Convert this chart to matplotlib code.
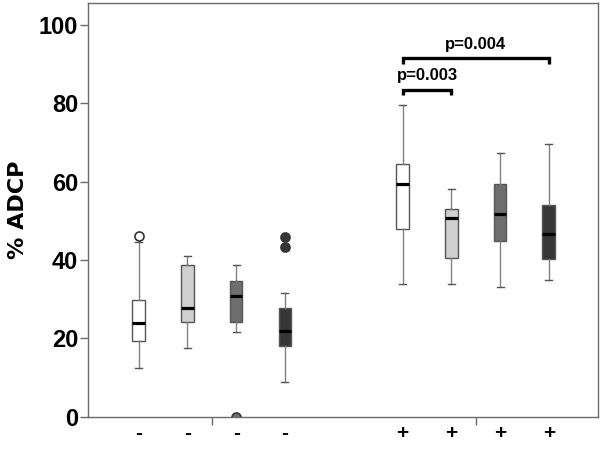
import matplotlib
matplotlib.use("Agg")
import matplotlib.pyplot as plt
import numpy as np

# ---- data ----
groups = ["-", "+"]
series_colors = ["#ffffff", "#cfcfcf", "#6e6e6e", "#363636"]
# order per box: whisker low, q1, median, q3, whisker high
neg_stats = [
    [12.3, 19.4, 23.9, 29.8, 44.6],
    [17.6, 24.1, 27.6, 38.7, 41.1],
    [21.7, 24.1, 30.7, 34.5, 38.8],
    [8.8, 18.0, 21.8, 27.7, 31.5],
]
pos_stats = [
    [33.8, 47.9, 59.5, 64.4, 79.5],
    [33.8, 40.5, 50.7, 53.0, 58.0],
    [33.0, 44.8, 51.7, 59.3, 67.3],
    [34.9, 40.2, 46.6, 54.0, 69.7],
]
neg_outliers = [[46.2], [], [0.0], [45.9, 43.3]]
pos_outliers = [[], [], [], []]
brackets = [  # (box index a, box index b in "+" group, bar height, label)
    (0, 1, 83.4, "p=0.003"),
    (0, 3, 91.5, "p=0.004"),
]
yticks = [0, 20, 40, 60, 80, 100]

# ---- layout ----
fig = plt.figure(figsize=(6.0, 4.49), dpi=100)
ax = fig.add_axes([88/600, 1-416.5/449, 510/600, 413.5/449])

step = 0.1845
offsets = (np.arange(4) - 1.5) * step
group_pos = [0.0, 1.0]

grey = "#6a6a6a"
for gi, (stats, outs) in enumerate([(neg_stats, neg_outliers), (pos_stats, pos_outliers)]):
    for bi in range(4):
        lo, q1, med, q3, hi = stats[bi]
        st = dict(whislo=lo, q1=q1, med=med, q3=q3, whishi=hi, fliers=outs[bi])
        fc = series_colors[bi]
        res = ax.bxp([st], positions=[group_pos[gi] + offsets[bi]], widths=0.048,
                     capwidths=0.026, patch_artist=True, showfliers=True,
                     boxprops=dict(facecolor=fc, edgecolor="#555555", linewidth=1.0),
                     whiskerprops=dict(color="#808080", linewidth=1.0),
                     capprops=dict(color="#555555", linewidth=1.0),
                     medianprops=dict(color="black", linewidth=2.3),
                     flierprops=dict(marker="o", markersize=6.5,
                                     markerfacecolor=(fc if bi > 0 else "white"),
                                     markeredgecolor="#333333", markeredgewidth=1.2))
        for f in res["fliers"]:
            f.set_clip_on(True)
            f.set_clip_box(ax.bbox)

# significance brackets
for a, b, h, lab in brackets:
    xa = group_pos[1] + offsets[a]
    xb = group_pos[1] + offsets[b]
    ax.plot([xa, xa, xb, xb], [h - 1.4, h, h, h - 1.4], color="black",
            linewidth=2.4, solid_capstyle="butt", solid_joinstyle="miter", clip_on=False)
    ax.text((xa + xb) / 2, h + 3.6, lab, ha="center", va="center",
            fontsize=12, fontweight="bold", family="Liberation Sans")

ax.set_xlim(-0.469, 1.463)
ax.set_ylim(0, 105.6)

for s in ax.spines.values():
    s.set_color(grey)
    s.set_linewidth(1.0)

ax.set_yticks(yticks)
ax.set_yticklabels([str(t) for t in yticks])
ax.tick_params(axis="y", direction="out", length=6, width=1.0, color=grey,
               labelsize=17, pad=1)

ax.set_xticks(group_pos)
ax.set_xticklabels(["", ""])
ax.tick_params(axis="x", which="major", direction="out", length=6, width=1.0, color=grey)
minor_pos = [g + o for g in group_pos for o in offsets]
ax.set_xticks(minor_pos, minor=True)
ax.set_xticklabels([groups[0]] * 4 + [groups[1]] * 4, minor=True)
ax.tick_params(axis="x", which="minor", length=0, labelsize=15, pad=5.5)

for lab in ax.get_yticklabels() + ax.get_xticklabels(minor=True):
    lab.set_fontweight("bold")
    lab.set_family("Liberation Sans")

ax.set_ylabel("% ADCP", fontsize=16, fontweight="bold", family="DejaVu Sans")
ax.yaxis.set_label_coords(-0.1176, 0.50)

fig.savefig("out.png", dpi=100)
